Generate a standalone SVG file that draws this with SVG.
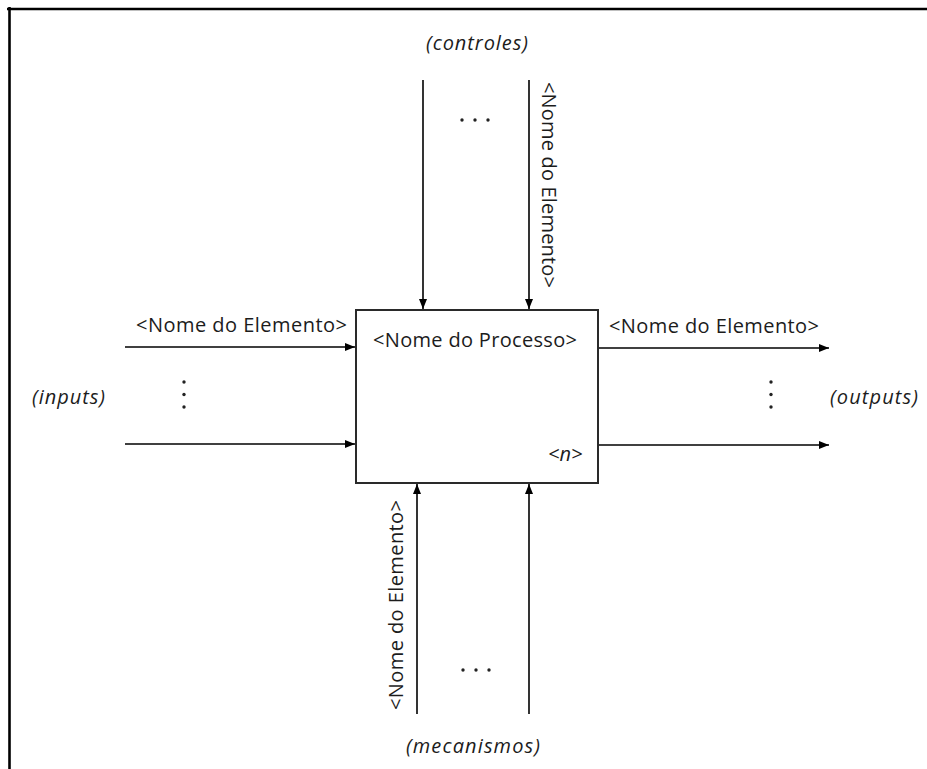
<svg xmlns="http://www.w3.org/2000/svg" width="927" height="769" viewBox="0 0 927 769">
<style>
.t{font-family:"Open Sans","DejaVu Sans",sans-serif;font-size:20px;fill:#1c1c1c}
.i{font-style:italic}
.c{stroke:#000;stroke-width:1.6;fill:none}
.d{fill:#222}
</style>
<defs>
<marker id="ah" viewBox="0 0 10 8" refX="10" refY="4" markerWidth="10" markerHeight="8" markerUnits="userSpaceOnUse" orient="auto">
<path d="M0,0 L10,4 L0,8 Z" fill="#000"/>
</marker>
</defs>
<rect width="927" height="769" fill="#fff"/>
<g id="frame" stroke="#000" stroke-width="2.6">
<line x1="7" y1="9" x2="927" y2="9"/>
<line x1="9.5" y1="7" x2="9.5" y2="769"/>
</g>
<g id="connectors">
<line class="c" x1="423" y1="80" x2="423" y2="309" marker-end="url(#ah)"/>
<line class="c" x1="529" y1="80" x2="529" y2="309" marker-end="url(#ah)"/>
<line class="c" x1="417" y1="714" x2="417" y2="484" marker-end="url(#ah)"/>
<line class="c" x1="529" y1="714" x2="529" y2="484" marker-end="url(#ah)"/>
<line class="c" x1="125" y1="347" x2="355" y2="347" marker-end="url(#ah)"/>
<line class="c" x1="125" y1="444" x2="355" y2="444" marker-end="url(#ah)"/>
<line class="c" x1="599" y1="348" x2="829" y2="348" marker-end="url(#ah)"/>
<line class="c" x1="599" y1="445" x2="829" y2="445" marker-end="url(#ah)"/>
</g>
<g id="process">
<rect x="356" y="310" width="242" height="173" fill="#fff" stroke="#2a2a2a" stroke-width="2"/>
<text class="t" x="373" y="347" textLength="204">&lt;Nome do Processo&gt;</text>
<text class="t i" x="548" y="461">&lt;n&gt;</text>
</g>
<g id="labels">
<text class="t i" x="426" y="50" textLength="102">(controles)</text>
<text class="t i" x="406" y="753" textLength="134">(mecanismos)</text>
<text class="t i" x="32" y="404" textLength="73">(inputs)</text>
<text class="t i" x="830" y="404" textLength="88">(outputs)</text>
<text class="t" x="136" y="332" textLength="211">&lt;Nome do Elemento&gt;</text>
<text class="t" x="609" y="333" textLength="210">&lt;Nome do Elemento&gt;</text>
<text class="t" transform="translate(542,82) rotate(90)" textLength="206">&lt;Nome do Elemento&gt;</text>
<text class="t" transform="translate(403,710) rotate(-90)" textLength="210">&lt;Nome do Elemento&gt;</text>
</g>
<g id="dots">
<circle class="d" cx="462" cy="120" r="1.7"/><circle class="d" cx="475" cy="120" r="1.7"/><circle class="d" cx="488" cy="120" r="1.7"/>
<circle class="d" cx="463" cy="670" r="1.7"/><circle class="d" cx="476" cy="670" r="1.7"/><circle class="d" cx="489" cy="670" r="1.7"/>
<circle class="d" cx="184" cy="382" r="1.7"/><circle class="d" cx="184" cy="394.5" r="1.7"/><circle class="d" cx="184" cy="407" r="1.7"/>
<circle class="d" cx="771" cy="382" r="1.7"/><circle class="d" cx="771" cy="394.5" r="1.7"/><circle class="d" cx="771" cy="407" r="1.7"/>
</g>
</svg>
